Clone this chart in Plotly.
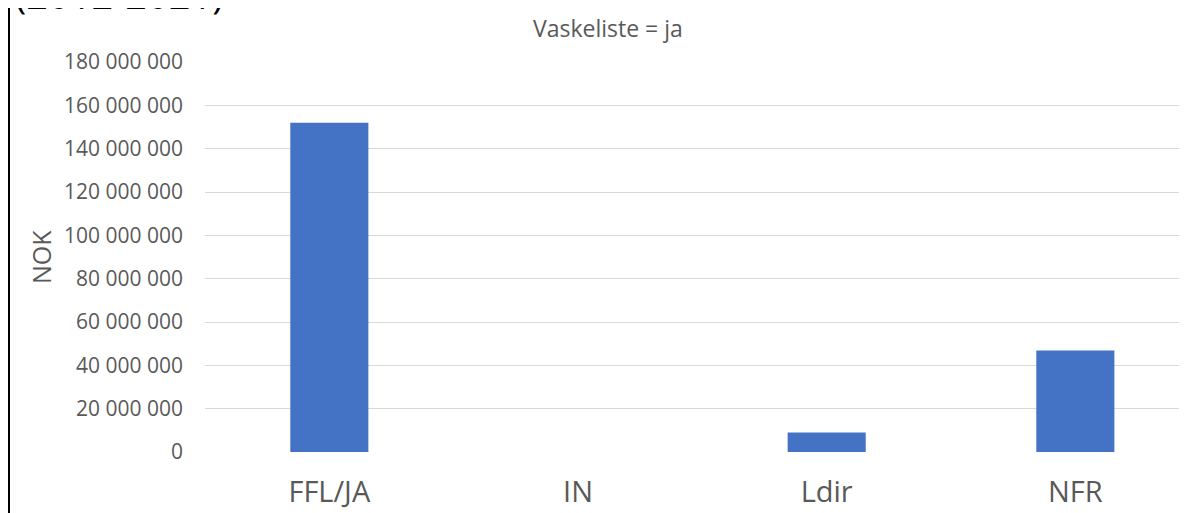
import plotly.graph_objects as go

categories = ["FFL/JA", "IN", "Ldir", "NFR"]
values = [152_000_000, 0, 9_000_000, 46_800_000]
y_ticks = list(range(0, 180_000_001, 20_000_000))
chart_title = "Vaskeliste = ja"
corner_text = "(2012-2021)"
y_title = "NOK"

OFF = 8  # page body margin offset
W, H = 1187 - OFF, 513 - OFF
L, R, T, B = 205 - OFF, 0, 62 - OFF, 61
pw, ph = W - L - R, H - T - B

def px_x(x):
    return (x - OFF - L) / pw

def px_y(y):
    return (H - B - (y - OFF)) / ph

fig = go.Figure(go.Bar(
    x=categories, y=values, width=0.314,
    marker=dict(color="#4472C4", line=dict(width=0)),
))

fig.update_layout(
    width=W, height=H, margin=dict(l=L, r=R, t=T, b=B, pad=0),
    paper_bgcolor="white", plot_bgcolor="white",
    separators=", ", showlegend=False,
    font=dict(family="Open Sans, sans-serif", color="#595959"),
    xaxis=dict(range=[-0.5, 3.449], showgrid=False, showline=False, zeroline=False,
               tickfont=dict(size=29, color="#595959"), ticks="", ticklabelstandoff=20),
    yaxis=dict(range=[0, 180_000_000], tickvals=y_ticks, tickformat=",d",
               showgrid=True, gridcolor="#D9D9D9", gridwidth=1, zeroline=False, showline=False,
               tickfont=dict(size=21, color="#595959"), ticks="", ticklabelstandoff=21),
    shapes=[dict(type="line", xref="paper", yref="paper", x0=px_x(9), x1=px_x(9),
                 y0=px_y(0), y1=px_y(H + 20), line=dict(color="black", width=2))],
    annotations=[
        dict(text=chart_title, xref="paper", yref="paper", x=px_x(608), y=px_y(28),
             xanchor="center", yanchor="middle", showarrow=False,
             font=dict(size=23, color="#595959")),
        dict(text=y_title, xref="paper", yref="paper", x=px_x(41), y=px_y(257),
             xanchor="center", yanchor="middle", showarrow=False, textangle=-90,
             font=dict(size=25, color="#595959")),
        dict(text=corner_text, xref="paper", yref="paper", x=px_x(13), y=px_y(-6),
             xanchor="left", yanchor="middle", showarrow=False,
             font=dict(size=38, color="black")),
    ],
)

fig.write_html("out.html")
